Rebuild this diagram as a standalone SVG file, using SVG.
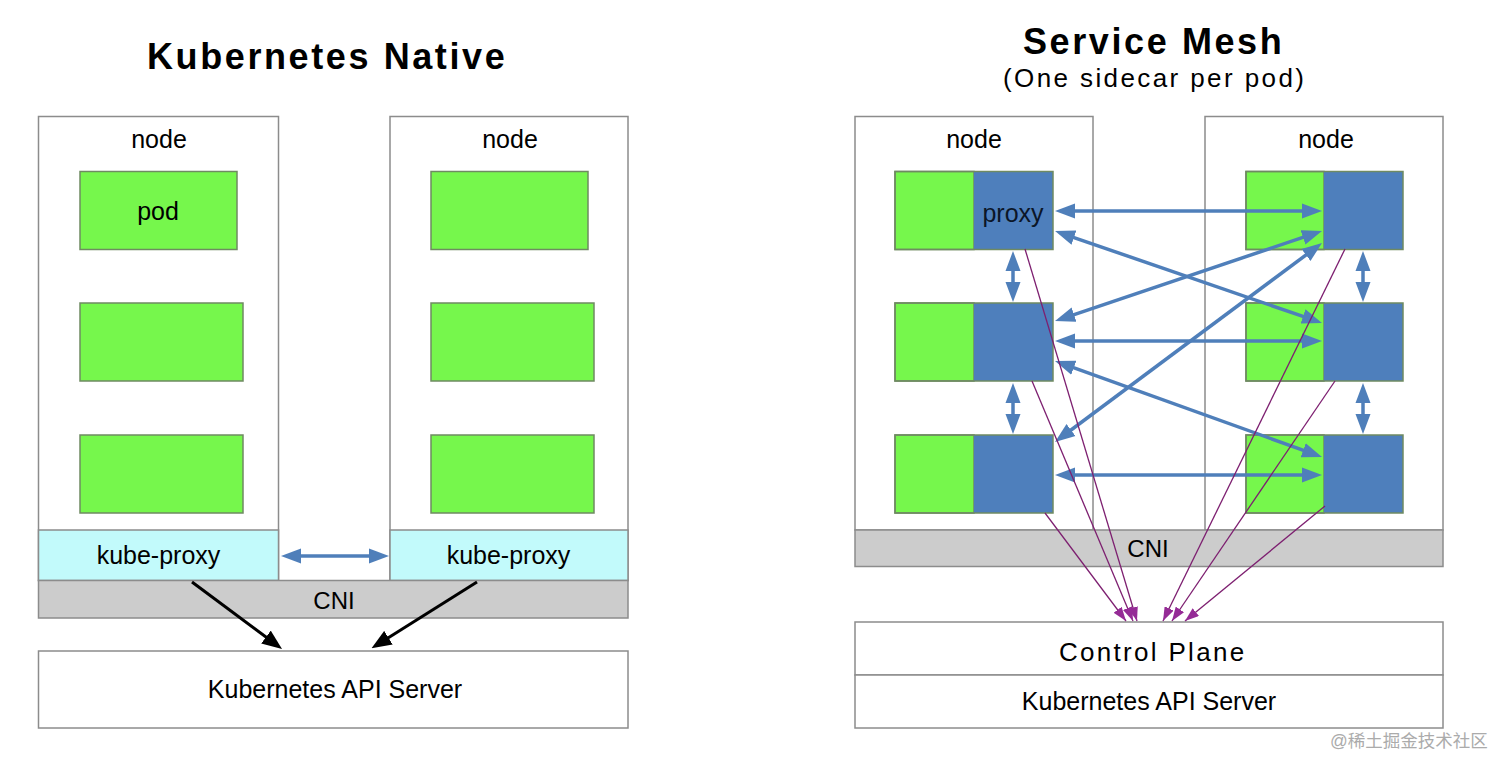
<svg xmlns="http://www.w3.org/2000/svg" width="1512" height="773" viewBox="0 0 1512 773">
<style>
text{font-family:"Liberation Sans",Arial,Helvetica,sans-serif;fill:#000}
.title{font-size:36px;font-weight:bold;letter-spacing:2.6px}
.sub{font-size:26px;letter-spacing:2.4px}
.lbl{font-size:25px;text-anchor:middle}
.box{fill:#fff;stroke:#8c8c8c;stroke-width:1.5}
.cni{fill:#cccccc;stroke:#8c8c8c;stroke-width:1.5}
.kp{fill:#c2fafb;stroke:#8c8c8c;stroke-width:1.5}
.pod{fill:#76f74c;stroke:#6f8a62;stroke-width:1.5}
.prx{fill:#4e7fbc}
.podb{fill:none;stroke:#6f8a62;stroke-width:1.5}
.blue{stroke:#4f7fba;stroke-width:3.5;fill:none;marker-start:url(#bh);marker-end:url(#bh)}
.blk{stroke:#000;stroke-width:3;fill:none;marker-end:url(#kh)}
.pur{stroke:#7d1f70;stroke-width:1.3;fill:none;marker-end:url(#ph)}
</style>
<defs>
<marker id="bh" viewBox="0 0 20 16" refX="10" refY="8" markerWidth="20" markerHeight="16" markerUnits="userSpaceOnUse" orient="auto-start-reverse"><path d="M0,0.5 L20,8 L0,15.5 z" fill="#4f7fba"/></marker>
<marker id="kh" viewBox="0 0 20 16" refX="10" refY="8" markerWidth="20" markerHeight="16" markerUnits="userSpaceOnUse" orient="auto"><path d="M0,0 L20,8 L0,16 z" fill="#000"/></marker>
<marker id="ph" viewBox="0 0 14 10" refX="14" refY="5" markerWidth="14" markerHeight="10" markerUnits="userSpaceOnUse" orient="auto"><path d="M0,0 L14,5 L0,10 z" fill="#952b96"/></marker>
</defs>

<text class="title" x="147" y="69">Kubernetes Native</text>
<text class="title" x="1023" y="54">Service Mesh</text>
<text class="sub" x="1003" y="86.5">(One sidecar per pod)</text>

<!-- Left: Kubernetes Native -->
<g id="k8s-node-1">
<rect class="box" x="38.5" y="116.5" width="240" height="464"/>
<text class="lbl" x="159" y="148">node</text>
<rect class="pod" x="80" y="171.5" width="157" height="78"/>
<text class="lbl" x="158" y="220">pod</text>
<rect class="pod" x="80" y="303" width="163" height="78"/>
<rect class="pod" x="80" y="435" width="163" height="78"/>
</g>
<g id="k8s-node-2">
<rect class="box" x="390" y="116.5" width="238" height="464"/>
<text class="lbl" x="510" y="148">node</text>
<rect class="pod" x="431" y="171.5" width="157" height="78"/>
<rect class="pod" x="431" y="303" width="163" height="78"/>
<rect class="pod" x="431" y="435" width="163" height="78"/>
</g>
<g id="kube-proxy-1">
<rect class="kp" x="38.5" y="530" width="240" height="50.5"/>
<text class="lbl" x="158.5" y="564">kube-proxy</text>
</g>
<g id="kube-proxy-2">
<rect class="kp" x="390" y="530" width="238" height="50.5"/>
<text class="lbl" x="508.5" y="564">kube-proxy</text>
</g>
<g id="k8s-cni">
<rect class="cni" x="38.5" y="580.5" width="589.5" height="37.5"/>
<text class="lbl" x="334" y="609" style="font-size:24px">CNI</text>
</g>
<g id="k8s-api">
<rect class="box" x="38.5" y="651" width="589.5" height="77"/>
<text class="lbl" x="335" y="698">Kubernetes API Server</text>
</g>

<!-- Right: Service Mesh -->
<g id="mesh-node-1">
<rect class="box" x="855" y="116.5" width="238" height="413.5"/>
<text class="lbl" x="974" y="148">node</text>
</g>
<g id="mesh-node-2">
<rect class="box" x="1205" y="116.5" width="238" height="413.5"/>
<text class="lbl" x="1326" y="148">node</text>
</g>
<g id="mesh-pod-l1">
<rect class="pod" x="895" y="171.5" width="79" height="78" stroke="none"/>
<rect class="prx" x="974" y="171.5" width="79" height="78"/>
<rect class="podb" x="895" y="171.5" width="158" height="78"/>
<text class="lbl" x="1013" y="222" style="fill:#0b1628">proxy</text>
</g>
<g id="mesh-pod-l2">
<rect class="pod" x="895" y="303" width="79" height="78" stroke="none"/>
<rect class="prx" x="974" y="303" width="79" height="78"/>
<rect class="podb" x="895" y="303" width="158" height="78"/>
</g>
<g id="mesh-pod-l3">
<rect class="pod" x="895" y="435" width="79" height="78" stroke="none"/>
<rect class="prx" x="974" y="435" width="79" height="78"/>
<rect class="podb" x="895" y="435" width="158" height="78"/>
</g>
<g id="mesh-pod-r1">
<rect class="pod" x="1246" y="171.5" width="78" height="78" stroke="none"/>
<rect class="prx" x="1324" y="171.5" width="79" height="78"/>
<rect class="podb" x="1246" y="171.5" width="157" height="78"/>
</g>
<g id="mesh-pod-r2">
<rect class="pod" x="1246" y="303" width="78" height="78" stroke="none"/>
<rect class="prx" x="1324" y="303" width="79" height="78"/>
<rect class="podb" x="1246" y="303" width="157" height="78"/>
</g>
<g id="mesh-pod-r3">
<rect class="pod" x="1246" y="435" width="78" height="78" stroke="none"/>
<rect class="prx" x="1324" y="435" width="79" height="78"/>
<rect class="podb" x="1246" y="435" width="157" height="78"/>
</g>
<g id="mesh-cni">
<rect class="cni" x="855" y="530" width="588" height="36.5"/>
<text class="lbl" x="1148" y="557" style="font-size:24px">CNI</text>
</g>
<g id="control-plane">
<rect class="box" x="855" y="622" width="588" height="53"/>
<text x="1059" y="661" style="font-size:26px;letter-spacing:2.3px">Control Plane</text>
</g>
<g id="mesh-api">
<rect class="box" x="855" y="675" width="588" height="53"/>
<text class="lbl" x="1149" y="710">Kubernetes API Server</text>
</g>

<g id="connectors">
<line class="blue" x1="291" y1="556" x2="379" y2="556"/>
<line class="blk" x1="192" y1="582" x2="274" y2="643"/>
<line class="blk" x1="477" y1="582" x2="380" y2="643"/>

<line class="blue" x1="1065" y1="211" x2="1312" y2="211"/>
<line class="blue" x1="1064.5" y1="234.3" x2="1312.5" y2="319.7"/>
<line class="blue" x1="1064.5" y1="317.8" x2="1312.5" y2="234.2"/>
<line class="blue" x1="1065" y1="341" x2="1312" y2="341"/>
<line class="blue" x1="1064.4" y1="364.4" x2="1312.6" y2="453.6"/>
<line class="blue" x1="1063" y1="436" x2="1314" y2="249"/>
<line class="blue" x1="1065" y1="475" x2="1312" y2="475"/>
<line class="blue" x1="1013" y1="261" x2="1013" y2="292"/>
<line class="blue" x1="1013" y1="393" x2="1013" y2="424"/>
<line class="blue" x1="1363" y1="261" x2="1363" y2="292"/>
<line class="blue" x1="1363" y1="393" x2="1363" y2="424"/>

<line class="pur" x1="1025" y1="249" x2="1137" y2="621"/>
<line class="pur" x1="1032" y1="381" x2="1133" y2="621"/>
<line class="pur" x1="1045" y1="513" x2="1126" y2="621"/>
<line class="pur" x1="1345" y1="249" x2="1163" y2="621"/>
<line class="pur" x1="1335" y1="381" x2="1172" y2="621"/>
<line class="pur" x1="1325" y1="506" x2="1185" y2="621"/>
</g>

<text x="1330" y="747" style="font-family:'Liberation Sans','Noto Sans CJK SC',sans-serif;font-size:17.5px;fill:#ababab">@稀土掘金技术社区</text>
</svg>
